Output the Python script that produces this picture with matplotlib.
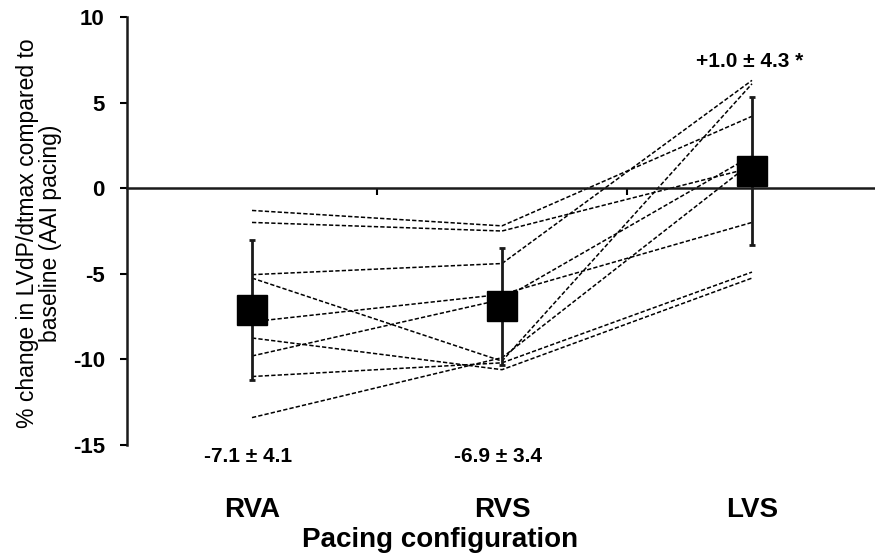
import matplotlib
matplotlib.use('Agg')
import matplotlib.pyplot as plt
import matplotlib.transforms as mtransforms

plt.rcParams['font.family'] = ['Liberation Sans', 'DejaVu Sans']
plt.rcParams['axes.unicode_minus'] = False

categories = ['RVA', 'RVS', 'LVS']

# one row per patient: RVA, RVS, LVS (% change vs AAI pacing)
rva = [-1.3, -2.0, -5.05, -5.25, -7.8, -8.75, -9.8, -11.0, -13.4]
rvs = [-2.2, -2.5, -4.4, -10.1, -6.2, -10.6, -6.5, -10.2, -9.9]
lvs = [4.2, 1.2, 6.3, 6.1, -2.0, -5.25, 1.9, -4.9, 1.5]

means = [-7.1, -6.9, 1.0]
sds = [4.1, 3.4, 4.3]
stat_labels = ['-7.1 \u00b1 4.1', '-6.9 \u00b1 3.4', '+1.0 \u00b1 4.3 *']

x = [1, 2, 3]
narrow = ['Liberation Sans Narrow', 'Liberation Sans', 'DejaVu Sans']

fig = plt.figure(figsize=(8.75, 5.55), dpi=100)
ax = fig.add_axes([127/875, 110/555, 748/875, 428/555])

# individual patients
for i in range(len(rva)):
    ax.plot(x, [rva[i], rvs[i], lvs[i]], color='black', lw=1.1,
            linestyle=(0, (2.8, 1.4)), zorder=2)

ax.errorbar(x, means, yerr=sds, fmt='none', ecolor='#1a1a1a', elinewidth=2.0,
            capsize=2.5, capthick=2.0, zorder=3)
ax.plot(x, means, 's', color='black', markersize=21, zorder=4)

ax.set_xlim(0.5, 0.5 + 748/250)
ax.set_ylim(-15, 10)
ax.set_yticks([-15, -10, -5, 0, 5, 10])
ax.tick_params(axis='y', direction='out', length=5, width=1.5, pad=11,
               labelsize=16)
for lab in ax.get_yticklabels():
    lab.set_fontweight('bold')
    lab.set_family(narrow)

ax.spines['top'].set_visible(False)
ax.spines['right'].set_visible(False)
ax.spines['left'].set_linewidth(1.8)
ax.spines['left'].set_color('#1a1a1a')
ax.spines['bottom'].set_position(('data', 0))
ax.spines['bottom'].set_linewidth(1.8)
ax.spines['bottom'].set_color('#1a1a1a')

ax.set_xticks([1, 2, 3])
ax.set_xticklabels([])
ax.tick_params(axis='x', which='major', length=0)
ax.set_xticks([1.5, 2.5], minor=True)
ax.tick_params(axis='x', which='minor', direction='out', length=5, width=1.5)

trans = mtransforms.blended_transform_factory(ax.transData, ax.transAxes)
for xi, name in zip(x, categories):
    ax.text(xi, -0.152, name, transform=trans, ha='center', va='center',
            fontsize=20, fontweight='bold', family=narrow, clip_on=False)

for xi, lab in zip(x[:2], stat_labels[:2]):
    ax.text(xi - 0.015, -0.026, lab, transform=trans, ha='center', va='center',
            fontsize=15, fontweight='bold', family=narrow, clip_on=False)
ax.text(x[2] - 0.01, 7.4, stat_labels[2], ha='center', va='center',
        fontsize=15, fontweight='bold', family=narrow)

fig.text(440/875, 1 - 540/555, 'Pacing configuration', ha='center',
         va='center', fontsize=20, fontweight='bold', family=narrow)
fig.text(39/875, 1 - 233/555,
         '% change in LVdP/dtmax compared to\nbaseline (AAI pacing)',
         rotation=90, ha='center', va='center', fontsize=16.5, linespacing=1.05)

fig.savefig('out.png', dpi=100)
